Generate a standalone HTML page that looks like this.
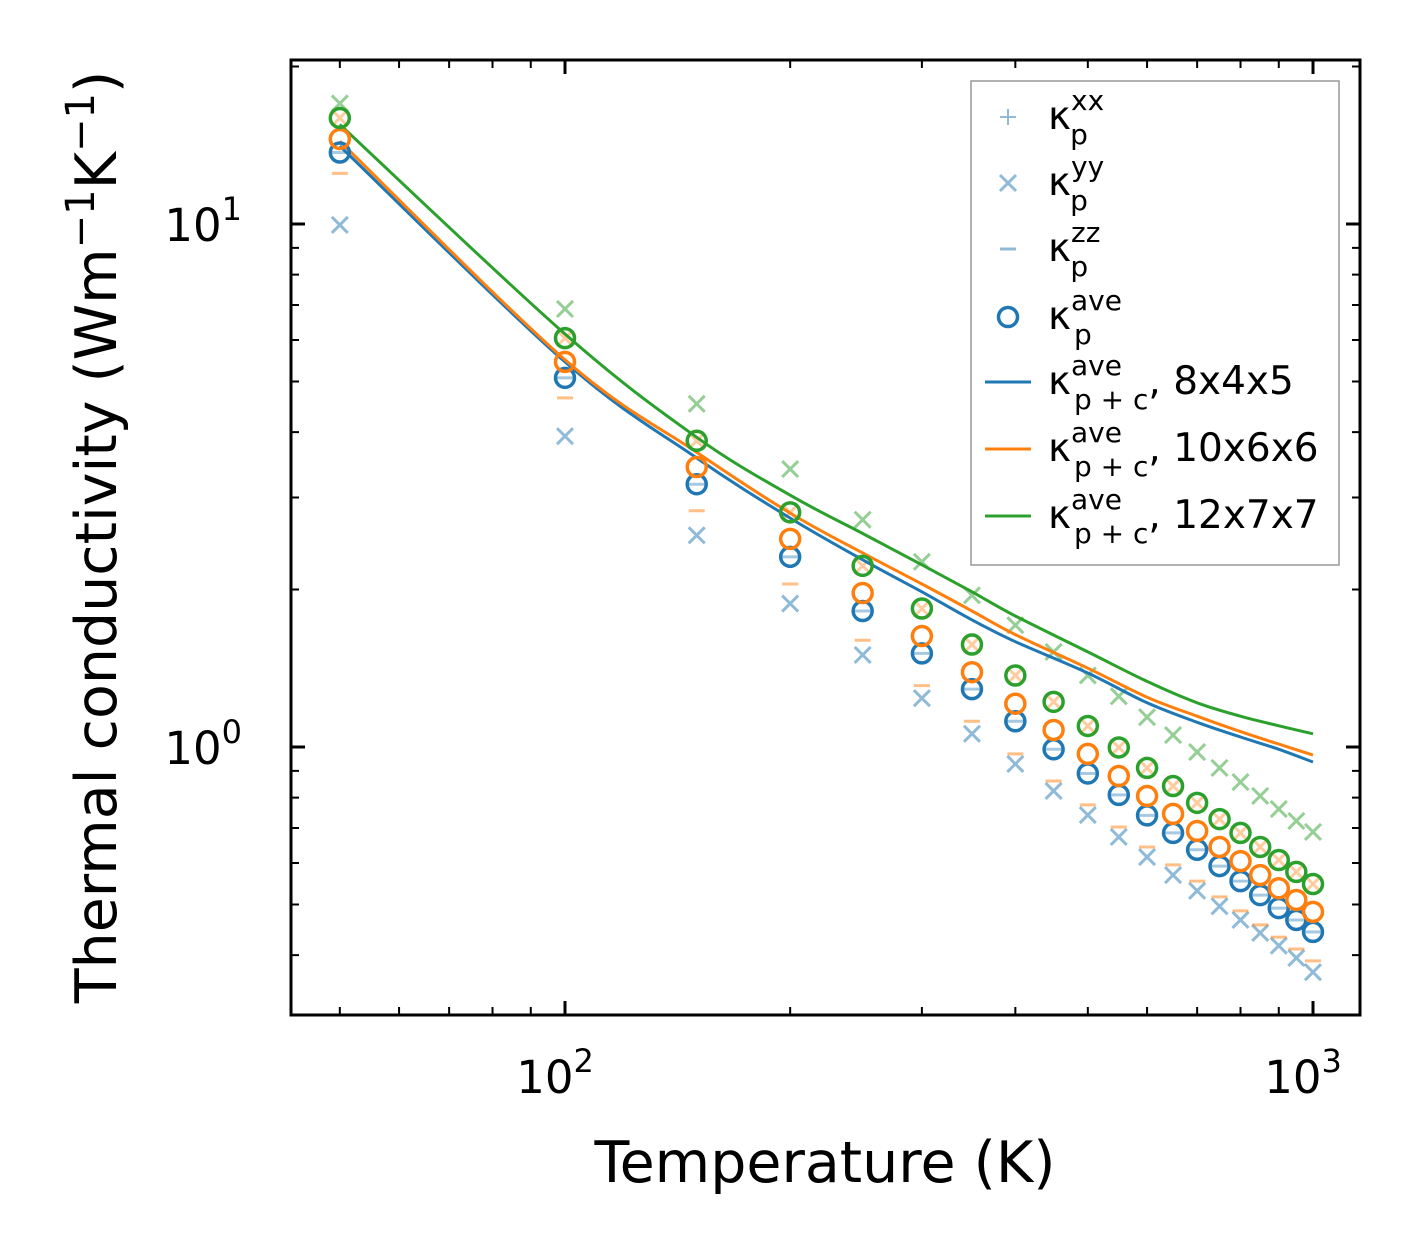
<!DOCTYPE html>
<html><head><meta charset="utf-8"><style>
html,body{margin:0;padding:0;background:#fff;}
svg text{font-family:"DejaVu Sans","Liberation Sans",sans-serif;}
</style></head><body>
<svg id="chart" width="1421" height="1254" viewBox="0 0 1421 1254" xmlns="http://www.w3.org/2000/svg">
<rect x="0" y="0" width="1421" height="1254" fill="#fff"/>
<g id="marks"></g>
<g id="axes"></g>
<text x="825" y="1182" font-size="57" text-anchor="middle">Temperature (K)</text>
<text transform="translate(116,537) rotate(-90)" font-size="57" text-anchor="middle">Thermal conductivity (Wm<tspan dy="-22" font-size="40">−1</tspan><tspan dy="22">K</tspan><tspan dy="-22" font-size="40">−1</tspan><tspan dy="22">)</tspan></text>
<g id="legend"></g>
</svg>
<script>
const temps=[50,100,150,200,250,300,350,400,450,500,550,600,650,700,750,800,850,900,950,1000];
const blueAve=[13.7,5.08,3.18,2.31,1.82,1.51,1.29,1.12,0.99,0.89,0.81,0.74,0.685,0.636,0.592,0.554,0.521,0.492,0.467,0.443];
const orangeAve=[14.54,5.45,3.43,2.50,1.97,1.63,1.39,1.21,1.078,0.970,0.880,0.806,0.745,0.691,0.644,0.605,0.569,0.537,0.510,0.484];
const greenAve=[15.95,6.05,3.85,2.81,2.22,1.84,1.57,1.37,1.22,1.097,0.998,0.912,0.842,0.782,0.728,0.685,0.644,0.608,0.577,0.547];
const blueYY=[9.96,3.93,2.54,1.88,1.50,1.24,1.06,0.928,0.824,0.741,0.673,0.616,0.569,0.531,0.496,0.467,0.441,0.417,0.395,0.371];
const greenYY=[17.0,6.88,4.53,3.40,2.72,2.26,1.95,1.71,1.52,1.37,1.25,1.14,1.054,0.978,0.912,0.857,0.806,0.761,0.722,0.688];
const orangeZZ=[12.5,4.65,2.83,2.05,1.60,1.31,1.12,0.970,0.861,0.775,0.703,0.644,0.595,0.554,0.517,0.486,0.457,0.433,0.411,0.390];
const lineTemps=[50,100,150,200,250,300,350,400,500,600,700,800,900,1000];
const blueLine=[14.1,5.45,3.57,2.74,2.28,1.98,1.75,1.59,1.385,1.215,1.115,1.045,0.99,0.936];
const orangeLine=[14.4,5.50,3.66,2.80,2.35,2.05,1.82,1.64,1.415,1.245,1.145,1.07,1.013,0.965];
const greenLine=[15.5,6.16,3.91,3.03,2.56,2.23,1.98,1.78,1.52,1.335,1.215,1.145,1.098,1.06];
const xTickLabels=["2","3"];
const yTickLabels=["0","1"];

const NS="http://www.w3.org/2000/svg";
const L=291,R=1360,T=60,B=1015;
function xs(t){return 565+748*(Math.log10(t)-2);}
function ys(v){return 747-523*Math.log10(v);}
function mk(tag,attrs,parent){const e=document.createElementNS(NS,tag);for(const k in attrs)e.setAttribute(k,attrs[k]);parent.appendChild(e);return e;}
const C={b:"#1f77b4",o:"#ff7f0e",g:"#2ca02c"};
const marks=document.getElementById('marks');
function cross(x,y,c,parent,op){const s=8;return mk('path',{d:`M${x-s} ${y-s}L${x+s} ${y+s}M${x-s} ${y+s}L${x+s} ${y-s}`,stroke:c,'stroke-width':3,'stroke-opacity':op,fill:'none'},parent);}
function dash(x,y,c,parent,op){return mk('path',{d:`M${x-8} ${y}L${x+8} ${y}`,stroke:c,'stroke-width':3,'stroke-opacity':op},parent);}
function circ(x,y,c,parent){return mk('circle',{cx:x,cy:y,r:9.5,fill:'none',stroke:c,'stroke-width':3.5},parent);}
function line(tt,vv,c,name){
 const P=tt.map((t,i)=>[xs(t),ys(vv[i])]);
 let d='M'+P[0][0].toFixed(1)+' '+P[0][1].toFixed(1);
 for(let i=0;i<P.length-1;i++){const p0=P[Math.max(i-1,0)],p1=P[i],p2=P[i+1],p3=P[Math.min(i+2,P.length-1)];
  const c1=[p1[0]+(p2[0]-p0[0])/6,p1[1]+(p2[1]-p0[1])/6],c2=[p2[0]-(p3[0]-p1[0])/6,p2[1]-(p3[1]-p1[1])/6];
  d+=`C${c1[0].toFixed(1)} ${c1[1].toFixed(1)} ${c2[0].toFixed(1)} ${c2[1].toFixed(1)} ${p2[0].toFixed(1)} ${p2[1].toFixed(1)}`;}
 const p=mk('path',{d:d,stroke:c,'stroke-width':3,fill:'none'},marks);
 
 }
temps.forEach((t,i)=>{const x=xs(t);
 let e=cross(x,ys(blueYY[i]),C.b,marks,0.5);
 
 
 e=cross(x,ys(greenYY[i]),C.g,marks,0.5);
 
 
 e=dash(x,ys(orangeZZ[i]),C.o,marks,0.5);
 
 
 e=cross(x,ys(greenAve[i]),C.o,marks,0.4);
 
 
 e=dash(x,ys(blueAve[i]),C.b,marks,0.4);
 
 
});
line(lineTemps,blueLine,C.b,'line-8x4x5');
line(lineTemps,orangeLine,C.o,'line-10x6x6');
line(lineTemps,greenLine,C.g,'line-12x7x7');
temps.forEach((t,i)=>{const x=xs(t);
 let e=circ(x,ys(blueAve[i]),C.b,marks);
 
 
 e=circ(x,ys(orangeAve[i]),C.o,marks);
 
 
 e=circ(x,ys(greenAve[i]),C.g,marks);
 
 
});
const ax=document.getElementById('axes');
const fr=mk('rect',{x:L,y:T,width:R-L,height:B-T,fill:'none',stroke:'#000','stroke-width':3},ax);


let xt=[];for(let d=10;d<=1000;d*=10)for(let m=1;m<10;m++)xt.push(m*d);
xt.forEach(v=>{const x=xs(v);if(x<L||x>R)return;const major=(v===100||v===1000);const len=major?14:8;const w=major?3:2;
 mk('path',{d:`M${x} ${B}L${x} ${B-len}M${x} ${T}L${x} ${T+len}`,stroke:'#000','stroke-width':w},ax);});
let yt=[];for(let d=0.1;d<=10;d*=10)for(let m=1;m<10;m++)yt.push(m*d);
yt.forEach(v=>{const y=ys(v);if(y<T||y>B)return;const major=Math.abs(Math.log10(v)-Math.round(Math.log10(v)))<1e-6;const len=major?14:8;const w=major?3:2;
 mk('path',{d:`M${L} ${y}L${L+len} ${y}M${R} ${y}L${R-len} ${y}`,stroke:'#000','stroke-width':w},ax);});
[100,1000].forEach((v,i)=>{const t=mk('text',{x:xs(v)-10,y:1093,'font-size':45,'text-anchor':'middle'},ax);t.innerHTML='10<tspan dy="-21" font-size="32">'+xTickLabels[i]+'</tspan>';
 
 });
[1,10].forEach((v,i)=>{const t=mk('text',{x:242,y:ys(v)+17,'font-size':45,'text-anchor':'end'},ax);t.innerHTML='10<tspan dy="-21" font-size="32">'+yTickLabels[i]+'</tspan>';
 
 });
const lg=document.getElementById('legend');
mk('rect',{x:971,y:81,width:368,height:484,fill:'#fff',stroke:'#999','stroke-width':1.5},lg);
const rows=[117,183,249,317,382,449,516];
const sups=['xx','yy','zz','ave','ave','ave','ave'];
const subs=['p','p','p','p','p + c','p + c','p + c'];
const tails=['','','','',', 8x4x5',', 10x6x6',', 12x7x7'];
const supW=[34,34,30,48,48,48,48];
rows.forEach((y,i)=>{
 if(i===0)mk('path',{d:`M1000 ${y}L1016 ${y}M1008 ${y-8}L1008 ${y+8}`,stroke:C.b,'stroke-width':2,'stroke-opacity':0.5},lg);
 if(i===1)cross(1008,y,C.b,lg,0.5);
 if(i===2)dash(1008,y,C.b,lg,0.5);
 if(i===3)circ(1008,y,C.b,lg);
 if(i>=4)mk('path',{d:`M985 ${y}L1031 ${y}`,stroke:[C.b,C.o,C.g][i-4],'stroke-width':3},lg);
 const t=mk('text',{x:1048,y:y+12,'font-size':39},lg);
 t.innerHTML='κ<tspan dy="-19" font-size="28">'+sups[i]+'</tspan><tspan dx="-'+supW[i]+'" dy="34" font-size="28">'+subs[i]+'</tspan><tspan dy="-15">'+tails[i]+'</tspan>';
 
 
});
</script>
</body></html>
